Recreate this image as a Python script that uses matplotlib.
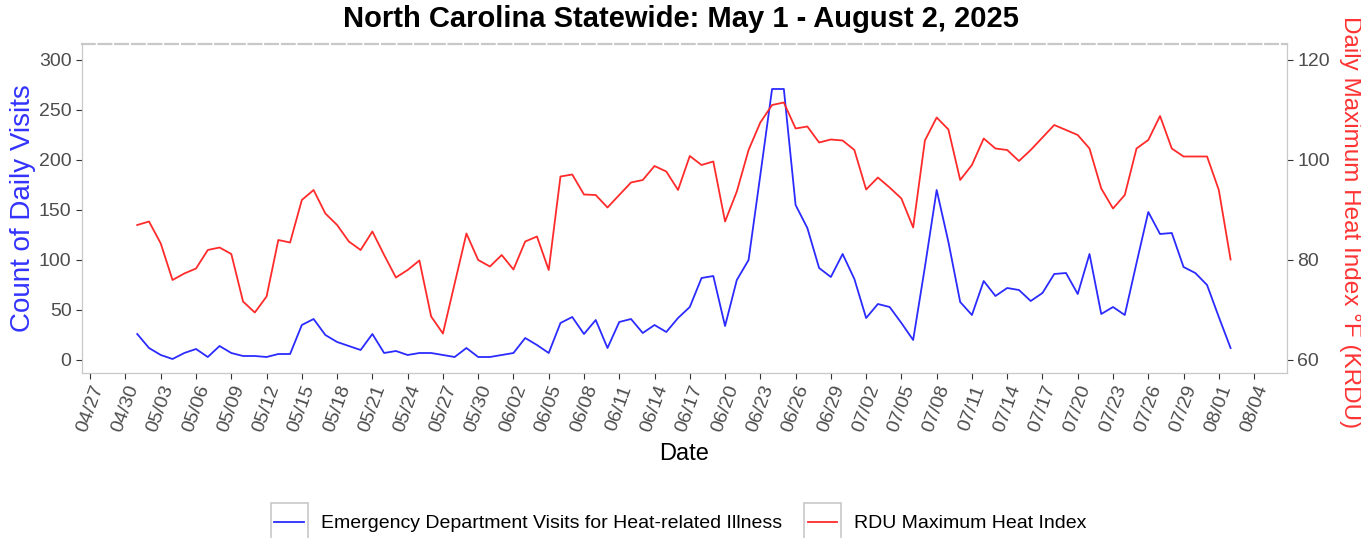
import matplotlib
matplotlib.use("Agg")
import matplotlib.pyplot as plt
import matplotlib.dates as mdates
from matplotlib.patches import Rectangle
import pandas as pd

plt.rcParams["font.family"] = ["Liberation Sans", "DejaVu Sans"]

dates = pd.date_range("2025-05-01", "2025-08-02", freq="D")

visits = [26, 12, 5, 1, 7, 11, 3, 14, 7, 4, 4, 3, 6, 6, 35, 41,
          25, 18, 14, 10, 26, 7, 9, 5, 7, 7, 5, 3, 12, 3, 3, 5, 7, 22, 15, 7,
          37, 43, 26, 40, 12, 38, 41, 27, 35, 28, 42, 53, 82, 84, 34, 80, 100,
          185, 271, 271, 155, 132, 92, 83, 106, 81, 42, 56, 53, 37, 20, 93, 170, 118, 58, 45, 79, 64,
          72, 70, 59, 67, 86, 87, 66, 106, 46, 53, 45, 97, 148, 126, 127, 93, 87, 75, 43, 12]

heat = [87, 87.7, 83.3, 76, 77.3, 78.3, 82, 82.5, 81.2, 71.7, 69.5, 72.7, 84, 83.5, 92, 94,
        89.3, 87, 83.7, 82, 85.7, 81, 76.5, 78, 79.9, 68.7, 65.3, 75.3, 85.3, 80, 78.7, 81, 78.1, 83.7, 84.7, 78,
        96.7, 97.1, 93.1, 93, 90.5, 93, 95.5, 96, 98.8, 97.7, 94, 100.8, 99, 99.7, 87.7, 93.7, 102,
        107.5, 111, 111.5, 106.3, 106.7, 103.5, 104.1, 103.9, 102, 94.1, 96.5, 94.5, 92.3, 86.5, 103.9, 108.5, 106.1, 96, 99, 104.3, 102.3,
        102, 99.8, 102, 104.5, 107, 106, 105, 102.3, 94.3, 90.3, 93, 102.3, 104, 108.8, 102.3, 100.7, 100.7, 100.7, 94, 80.1]

tick_dates = pd.date_range("2025-04-27", "2025-08-04", freq="3D")
left_ticks = [0, 50, 100, 150, 200, 250, 300]
right_ticks = [60, 80, 100, 120]

gray_txt = "#4d4d4d"
border = "#c8c8c8"

fig = plt.figure(figsize=(13.61, 5.38), dpi=100)
ax = fig.add_axes([82 / 1361, 1 - 373 / 538, (1287 - 82) / 1361, (373 - 44) / 538])
ax2 = ax.twinx()

l1, = ax.plot(dates, visits, color="#2b2bff", lw=1.3,
              label="Emergency Department Visits for Heat-related Illness")
l2, = ax2.plot(dates, heat, color="#ff2b2b", lw=1.3, label="RDU Maximum Heat Index")

x0 = mdates.date2num(pd.Timestamp("2025-04-27"))
ax.set_xlim(x0 - 0.7, x0 + 101.8)
ax.set_ylim(-13, 316)
ax2.set_ylim(57.4, 123.2)

ax.set_xticks(tick_dates)
ax.xaxis.set_major_formatter(mdates.DateFormatter("%m/%d"))
ax.set_yticks(left_ticks)
ax2.set_yticks(right_ticks)

for lab in ax.get_xticklabels():
    lab.set_rotation(70)
    lab.set_ha("center")

ax.tick_params(axis="x", colors="#333333", labelcolor=gray_txt, labelsize=14, length=4, pad=3)
ax.tick_params(axis="y", colors="#333333", labelcolor=gray_txt, labelsize=14, length=4)
ax2.tick_params(axis="y", colors="#333333", labelcolor=gray_txt, labelsize=14, length=4)

for a in (ax, ax2):
    for s in ("left", "right", "bottom"):
        a.spines[s].set_color(border)
    a.spines["top"].set_color(border)
    a.spines["top"].set_linestyle((0, (6, 2)))
    a.spines["top"].set_linewidth(1.5)

ax.set_xlabel("Date", fontsize=17, color="black", labelpad=6)
ax.set_ylabel("Count of Daily Visits", fontsize=20, color="#3333ff", labelpad=2)
ax2.set_ylabel("Daily Maximum Heat Index °F (KRDU)", fontsize=17.5, color="#ff3333",
               rotation=270, va="center")
ax2.yaxis.set_label_coords(1.052, 0.46)

fig.suptitle("North Carolina Statewide: May 1 - August 2, 2025", fontsize=21,
             fontweight="bold", y=0.99)

leg = fig.legend(handles=[l1, l2], loc="lower center", bbox_to_anchor=(0.5, -0.022),
                 ncol=2, frameon=False, fontsize=14, handlelength=1.5,
                 columnspacing=1.3, handletextpad=0.9)

fig.canvas.draw()
inv = fig.transFigure.inverted()
for h in leg.legend_handles:
    bb = h.get_window_extent(fig.canvas.get_renderer())
    cx = (bb.x0 + bb.x1) / 2
    cy = (bb.y0 + bb.y1) / 2
    (fx0, fy0) = inv.transform((cx - 18.5, cy - 18.5))
    (fx1, fy1) = inv.transform((cx + 18.5, cy + 18.5))
    fig.patches.append(Rectangle((fx0, fy0), fx1 - fx0, fy1 - fy0, transform=fig.transFigure,
                                 fill=False, edgecolor=border, lw=1.2))

fig.savefig("out.png", dpi=100)
